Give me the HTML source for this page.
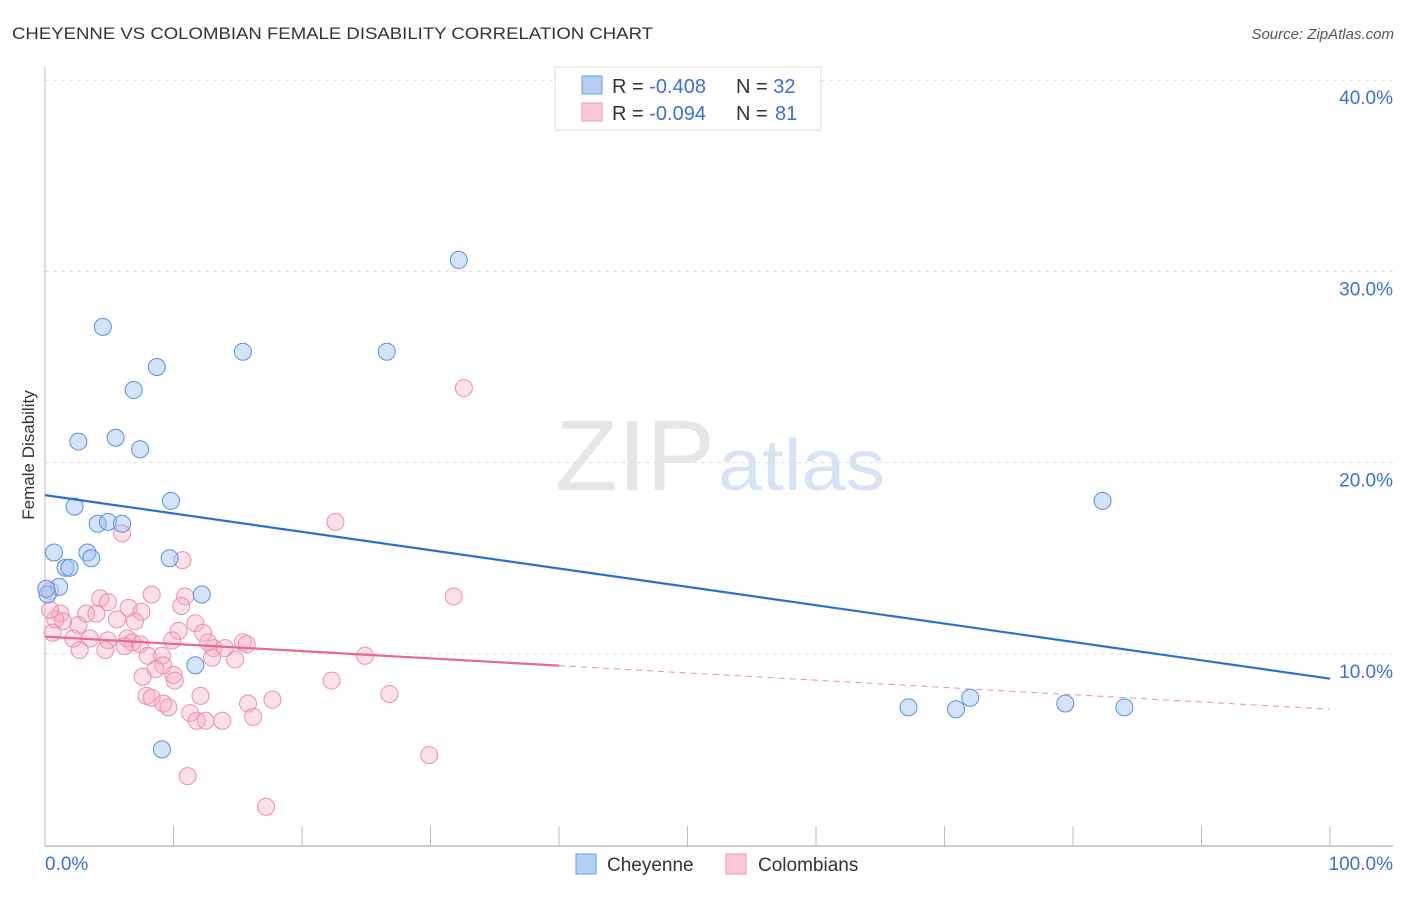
<!DOCTYPE html>
<html><head><meta charset="utf-8"><style>
body{margin:0;background:#fff;font-family:"Liberation Sans",sans-serif;}
svg text{font-family:"Liberation Sans",sans-serif;}
</style></head><body>
<svg id="chart" width="1406" height="892">
<text x="12" y="39" font-size="17" fill="#333" textLength="641" lengthAdjust="spacingAndGlyphs">CHEYENNE VS COLOMBIAN FEMALE DISABILITY CORRELATION CHART</text>
<text x="1394" y="39" font-size="15" fill="#555" font-style="italic" text-anchor="end">Source: ZipAtlas.com</text>
<text x="555" y="490" font-size="100" fill="#e6e6e6" textLength="160" lengthAdjust="spacingAndGlyphs" font-family="Liberation Serif">ZIP</text>
<text x="718" y="490" font-size="72" fill="#d7e3f4" textLength="167" lengthAdjust="spacingAndGlyphs">atlas</text>
<g id="grid"></g>
<g id="axes"></g>
<g id="pts"></g>
<g id="trend"></g>
<text transform="translate(34,455) rotate(-90)" font-size="17" fill="#333" text-anchor="middle">Female Disability</text>
<g>
<rect x="555" y="67" width="266" height="63" fill="#fff" stroke="#ddd"/>
<rect x="582" y="76" width="20" height="18" fill="#b3cff4" stroke="#6d9be0"/>
<rect x="582" y="103" width="20" height="18" fill="#fcc8d8" stroke="#ec98b3"/>
<text x="612" y="93" font-size="20" fill="#333">R = <tspan fill="#3a6fd8">-0.408</tspan></text>
<text x="736" y="93" font-size="20" fill="#333">N = <tspan fill="#3a6fd8">32</tspan></text>
<text x="612" y="120" font-size="20" fill="#333">R = <tspan fill="#3a6fd8">-0.094</tspan></text>
<text x="736" y="120" font-size="20" fill="#333">N = <tspan fill="#3a6fd8" x="775">81</tspan></text>
</g>
<g>
<rect x="576" y="854" width="20" height="20" fill="#b3cff4" stroke="#6d9be0"/>
<text x="607" y="871" font-size="19" fill="#333">Cheyenne</text>
<rect x="726" y="854" width="20" height="20" fill="#fcc8d8" stroke="#ec98b3"/>
<text x="758" y="871" font-size="19" fill="#333">Colombians</text>
</g>
</svg>
<script>
const yTicks=[10,20,30,40];
const xTickVals=[0,10,20,30,40,50,60,70,80,90,100];
const xLabels=["0.0%","100.0%"];
const cheyX=[32.2,4.5,15.4,26.6,8.7,6.9,2.6,5.5,7.4,9.8,2.3,4.1,4.9,6.0,0.7,3.3,3.6,9.7,1.6,1.9,1.1,0.2,12.2,11.7,9.1,82.3,67.2,70.9,72.0,79.4,84.0,0.1];
const cheyY=[30.6,27.1,25.8,25.8,25.0,23.8,21.1,21.3,20.7,18.0,17.7,16.8,16.9,16.8,15.3,15.3,15.0,15.0,14.5,14.5,13.5,13.1,13.1,9.4,5.0,18.0,7.2,7.1,7.7,7.4,7.2,13.4];
const colX=[10.7,8.3,10.9,10.6,4.3,4.9,6.5,7.5,3.2,4.0,5.6,7.0,1.2,1.4,0.8,2.6,10.4,11.7,12.3,0.6,2.2,3.5,4.9,6.4,6.8,7.4,9.9,12.7,13.1,14.0,15.4,15.7,2.7,4.7,6.2,8.0,9.1,13.0,14.8,9.2,8.6,7.6,10.0,10.1,7.9,8.3,9.2,9.6,12.1,11.3,11.8,12.5,13.8,15.8,16.2,17.7,11.1,17.2,0.4,0.4,32.6,22.6,31.8,24.9,22.3,26.8,29.9,6.0];
const colY=[14.9,13.1,13.0,12.5,12.9,12.7,12.4,12.2,12.1,12.1,11.8,11.7,12.1,11.7,11.8,11.5,11.2,11.6,11.1,11.1,10.8,10.8,10.7,10.8,10.6,10.5,10.7,10.6,10.3,10.3,10.6,10.5,10.2,10.2,10.4,9.9,9.9,9.8,9.7,9.4,9.2,8.8,8.9,8.6,7.8,7.7,7.4,7.2,7.8,6.9,6.5,6.5,6.5,7.4,6.7,7.6,3.6,2.0,12.3,13.3,23.9,16.9,13.0,9.9,8.6,7.9,4.7,16.3];
const cheyTrend=[18.3,8.7];
const colTrend=[10.9,7.1];
const colSolidEnd=40;
const X=v=>45+v*12.85, Y=v=>845-v*19.12;
const NS="http://www.w3.org/2000/svg";
function mk(p,t,a){const e=document.createElementNS(NS,t);for(const k in a)e.setAttribute(k,a[k]);p.appendChild(e);return e;}
const grid=document.getElementById('grid'),axes=document.getElementById('axes'),pts=document.getElementById('pts'),tr=document.getElementById('trend');
yTicks.forEach(v=>{
 const l=mk(grid,'line',{x1:45,x2:1393,y1:Y(v),y2:Y(v),stroke:'#ddd','stroke-dasharray':'4,4'});
 
 
 const t=mk(grid,'text',{x:1393,y:Y(v)+24,'font-size':19,fill:'#3a6fd8','text-anchor':'end'});
 t.textContent=v.toFixed(1)+'%';
 
 
});
const ya=mk(axes,'line',{x1:45,x2:45,y1:67,y2:846,stroke:'#bbb'});


const xa=mk(axes,'line',{x1:45,x2:1393,y1:846,y2:846,stroke:'#bbb','stroke-width':1.5});


xTickVals.forEach(v=>{
 const l=mk(axes,'line',{x1:X(v),x2:X(v),y1:826,y2:846,stroke:'#bbb'});
 
 
});
[[0,'start'],[100,'end']].forEach((p,i)=>{
 const t=mk(axes,'text',{x:i?1393:45,y:870,'font-size':19,fill:'#3a6fd8','text-anchor':p[1]});
 t.textContent=xLabels[i];
 
 
});
colX.forEach((x,i)=>{
 const c=mk(pts,'circle',{cx:X(x),cy:Y(colY[i]),r:8.5,fill:'rgba(246,165,192,0.35)',stroke:'#eb8fad','stroke-width':1});
 
 
});
cheyX.forEach((x,i)=>{
 const c=mk(pts,'circle',{cx:X(x),cy:Y(cheyY[i]),r:8.5,fill:'rgba(160,196,240,0.45)',stroke:'#5b8fe0','stroke-width':1});
 
 
});
const b=mk(tr,'line',{x1:X(0),y1:Y(cheyTrend[0]),x2:X(100),y2:Y(cheyTrend[1]),stroke:'#2a6fd6','stroke-width':2.2});


const mid=colTrend[0]+(colTrend[1]-colTrend[0])*colSolidEnd/100;
const p1=mk(tr,'line',{x1:X(0),y1:Y(colTrend[0]),x2:X(colSolidEnd),y2:Y(mid),stroke:'#e8688f','stroke-width':2.2});


const p2=mk(tr,'line',{x1:X(colSolidEnd),y1:Y(mid),x2:X(100),y2:Y(colTrend[1]),stroke:'#eb8fad','stroke-width':1,'stroke-dasharray':'6,5'});


</script>
</body></html>
